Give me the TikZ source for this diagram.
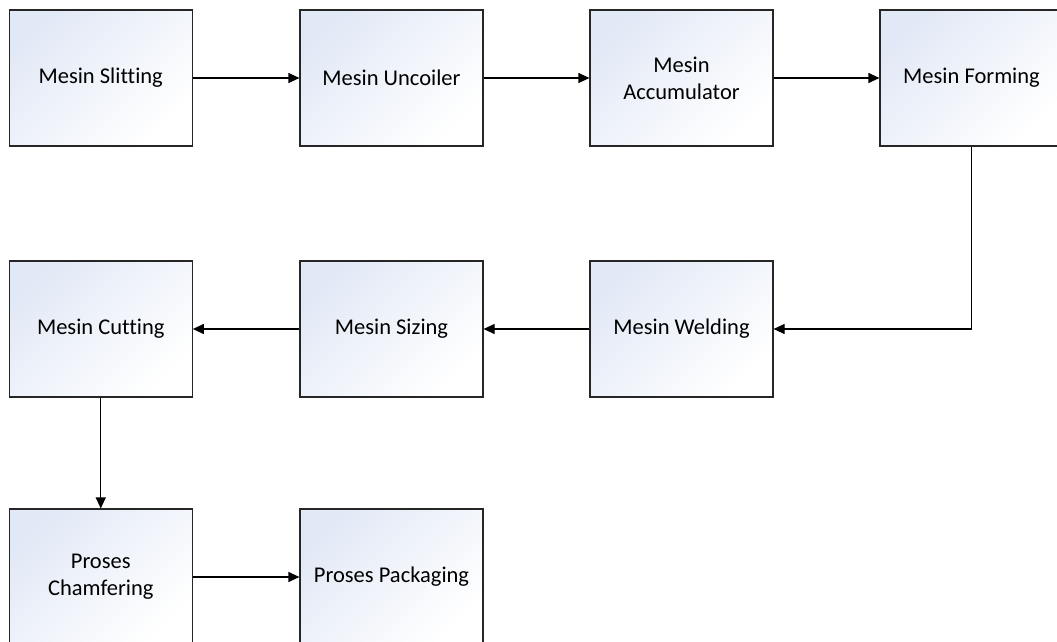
\documentclass[tikz,border=0pt]{standalone}
\usepackage{fontspec}
\setmainfont{Carlito}[Ligatures=NoCommon]
\usetikzlibrary{arrows.meta}
\definecolor{boxtop}{RGB}{226,233,246}
\tikzset{mesin/.style={draw=black!85, minimum width=183pt, minimum height=136pt, align=center,
  top color=boxtop, bottom color=white, shading angle=45, font=\fontsize{22.5}{27}\selectfont}}

\begin{document}
\begin{tikzpicture}[x=1pt, y=1pt, line width=1.2pt, >={Triangle[length=11pt,width=10pt]}]
\clip (0,0) rectangle (1057,-641);
% first row
\node[mesin] (slitting) at (100.75,-78) {Mesin Slitting};
\node[mesin] (uncoiler) at (391.5,-78) {Mesin Uncoiler};
\node[mesin] (accum) at (681.5,-78) {Mesin\\Accumulator};
\node[mesin] (forming) at (971.5,-78) {Mesin Forming};
% second row, runs back to the left
\node[mesin] (welding) at (681.5,-329) {Mesin Welding};
\node[mesin] (sizing) at (391.5,-329) {Mesin Sizing};
\node[mesin] (cutting) at (100.75,-329) {Mesin Cutting};
% last row
\node[mesin] (chamfer) at (100.75,-577) {Proses\\Chamfering};
\node[mesin] (packing) at (391.5,-577) {Proses Packaging};

\draw [->] (slitting) -- (uncoiler);
\draw [->] (uncoiler) -- (accum);
\draw [->] (accum) -- (forming);
\draw [->] (forming.south) |- (welding.east);
\draw [->] (welding) -- (sizing);
\draw [->] (sizing) -- (cutting);
\draw [->] (cutting) -- (chamfer);
\draw [->] (chamfer) -- (packing);
\end{tikzpicture}
\end{document}
